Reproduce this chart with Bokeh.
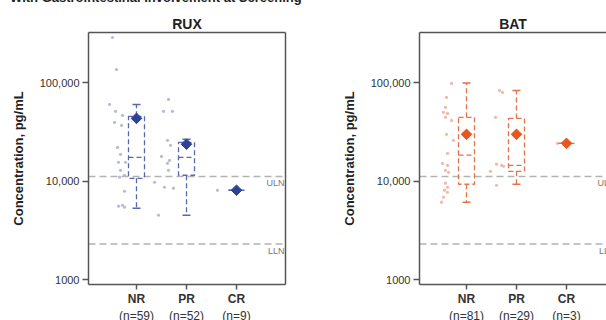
from bokeh.plotting import figure
from bokeh.models import Range1d, FixedTicker, LinearAxis, Div
from bokeh.layouts import row, column
from bokeh.core.properties import value
from bokeh.embed import file_html
from bokeh.resources import INLINE

FONT = "Liberation Sans"

heading = "With Gastrointestinal Involvement at Screening"
categories = ["NR", "PR", "CR"]
rux_n = ["(n=59)", "(n=52)", "(n=9)"]
bat_n = ["(n=81)", "(n=29)", "(n=3)"]

uln_value = 11200
lln_value = 2300

# box statistics, pg/mL
rux_lower = [5320, 4520, 8100]
rux_q1 = [10700, 11500, 8100]
rux_median = [17500, 17500, 8100]
rux_q3 = [45700, 24900, 8100]
rux_upper = [60500, 26700, 8100]
rux_mean = [43600, 23800, 8100]

bat_lower = [6120, 9320, 24300]
bat_q1 = [9320, 12600, 24300]
bat_median = [18400, 14500, 24300]
bat_q3 = [44700, 43600, 24300]
bat_upper = [100000, 84000, 24300]
bat_mean = [30000, 30000, 24300]

# individual patients: category index, horizontal jitter, value
rux_pt_cat = [0] * 18 + [1] * 13 + [2]
rux_pt_jit = [-0.48, -0.40, -0.54, -0.42, -0.28, -0.44, -0.30, -0.38, -0.32, -0.36,
              -0.22, -0.32, -0.24, -0.34, -0.24, -0.36, -0.28, -0.24,
              -0.36, -0.46, -0.28, -0.38, -0.32, -0.50, -0.34, -0.38, -0.36, -0.64,
              -0.44, -0.26, -0.56,
              -0.38]
rux_pt_val = [290000, 137000, 60500, 51400, 46800, 39700, 37000, 22100, 18800, 15600,
              15600, 12900, 11500, 11000, 7910, 5570, 5700, 5450,
              68000, 51400, 51400, 26100, 23200, 17900, 16300, 15200, 12900, 9770,
              8690, 8490, 4520,
              8100]

bat_pt_cat = [0] * 20 + [1] * 8 + [2]
bat_pt_jit = [-0.30, -0.40, -0.42, -0.38, -0.42, -0.30, -0.40, -0.26, -0.38, -0.48,
              -0.38, -0.42, -0.36, -0.42, -0.38, -0.44, -0.38, -0.46, -0.50, -0.46,
              -0.34, -0.28, -0.42, -0.40, -0.30, -0.26, -0.52, -0.40,
              -0.18]
bat_pt_val = [98900, 71300, 56400, 49000, 44700, 41600, 30000, 26100, 19200, 15200,
              14500, 12900, 12300, 9550, 8690, 8110, 7730, 6880, 6120, 50200,
              83900, 80100, 44700, 14900, 14500, 14200, 12600, 9100,
              24300]

AX = "#555555"


def empty_axis():
    return LinearAxis(ticker=FixedTicker(ticks=[]), axis_line_color=AX, axis_line_width=1.5,
                      major_tick_line_color=None, minor_tick_line_color=None,
                      major_label_text_font_size="0px", major_label_standoff=0,
                      major_tick_out=0, major_tick_in=0, minor_tick_out=0, minor_tick_in=0)


def make_panel(title, st, pcat, pjit, pval, cols, x_start, x_end,
               min_left, min_right, right_border, label_x_end):
    p = figure(width=303, height=304, y_axis_type="log",
               x_range=Range1d(x_start, x_end), y_range=Range1d(890, 326000),
               output_backend="svg", toolbar_location=None,
               min_border_left=min_left, min_border_right=min_right,
               min_border_top=27, min_border_bottom=25,
               background_fill_color="white", border_fill_color="white")
    p.outline_line_color = None
    p.xgrid.visible = False
    p.ygrid.visible = False

    p.title.text = title
    p.title.align = "center"
    p.title.text_font = FONT
    p.title.text_font_size = "14px"
    p.title.text_font_style = "bold"
    p.title.text_color = "#222222"
    p.title.standoff = 1

    # y axis
    ya = p.yaxis[0]
    ya.ticker = FixedTicker(ticks=[1000, 10000, 100000])
    ya.major_label_overrides = {1000: "1000", 10000: "10,000", 100000: "100,000"}
    ya.axis_label = "Concentration, pg/mL"
    ya.axis_label_text_font = FONT
    ya.axis_label_text_font_size = "13px"
    ya.axis_label_text_font_style = "bold"
    ya.axis_label_text_color = "#222222"
    ya.axis_label_standoff = 11

    # x axis
    xa = p.xaxis[0]
    xa.ticker = FixedTicker(ticks=[0, 1, 2])
    xa.major_label_overrides = {i: c for i, c in enumerate(categories)}
    xa.major_label_text_font_style = "bold"
    xa.major_label_text_font_size = "12px"

    for ax in (ya, xa):
        ax.axis_line_color = AX
        ax.axis_line_width = 1.5
        ax.major_tick_line_color = AX
        ax.major_tick_line_width = 1.5
        ax.major_tick_out = 6
        ax.major_tick_in = 0
        ax.minor_tick_out = 0
        ax.minor_tick_in = 0
        ax.minor_tick_line_color = None
        ax.major_label_text_font = FONT
        ax.major_label_text_color = "#333333"
        ax.major_label_standoff = 3
    ya.major_label_text_font_size = "11px"
    xa.major_tick_out = 5
    xa.major_label_standoff = 2

    p.add_layout(empty_axis(), "above")
    if right_border:
        p.add_layout(empty_axis(), "right")

    # reference lines
    for v, t in ((uln_value, "ULN"), (lln_value, "LLN")):
        p.line(x=[x_start, label_x_end], y=[v, v], line_color="#b3b3b3", line_width=1.5,
               line_dash="7 4")
        p.text(x=[label_x_end], y=[v], text=[t], text_align="right", text_baseline="top",
               x_offset=-1, y_offset=2, text_font_size="9px", text_color="#777777",
               text_font=value(FONT))

    lower, q1, med, q3, upper, mean = st
    dark, boxc, ptc = cols
    xs = [0, 1, 2]
    hw = 0.16
    cw = 0.08
    # points
    px = [c + j for c, j in zip(pcat, pjit)]
    p.scatter(x=px, y=pval, size=3.2, fill_color=ptc, line_color=None)
    # boxes
    p.quad(left=[x - hw for x in xs], right=[x + hw for x in xs], bottom=q1, top=q3,
           fill_color=None, line_color=boxc, line_width=1.3, line_dash="5 3")
    p.segment(x0=[x - hw for x in xs], x1=[x + hw for x in xs], y0=med, y1=med,
              line_color=boxc, line_width=1.3, line_dash="5 3")
    p.segment(x0=xs, x1=xs, y0=q3, y1=upper, line_color=boxc, line_width=1.3, line_dash="5 3")
    p.segment(x0=xs, x1=xs, y0=q1, y1=lower, line_color=boxc, line_width=1.3, line_dash="5 3")
    p.segment(x0=[x - cw for x in xs], x1=[x + cw for x in xs], y0=upper, y1=upper,
              line_color=boxc, line_width=1.5)
    p.segment(x0=[x - cw for x in xs], x1=[x + cw for x in xs], y0=lower, y1=lower,
              line_color=boxc, line_width=1.5)
    p.scatter(x=xs, y=mean, marker="square", angle=0.785398, size=7.5,
              fill_color=dark, line_color=dark)
    return p


def make_n_strip(n_labels, x_start, x_end, min_left, min_right):
    s = figure(width=303, height=11, x_range=Range1d(x_start, x_end),
               y_range=Range1d(0, 1), output_backend="svg", toolbar_location=None,
               x_axis_location=None, y_axis_location=None,
               min_border_left=min_left, min_border_right=min_right,
               min_border_top=0, min_border_bottom=0,
               background_fill_color="white", border_fill_color="white")
    s.outline_line_color = None
    s.xgrid.visible = False
    s.ygrid.visible = False
    s.text(x=[0, 1, 2], y=[0.5, 0.5, 0.5], text=n_labels, text_align="center",
           text_baseline="middle", text_font=value(FONT), text_font_size="12px",
           text_color="#333333")
    return s


left = make_panel("RUX",
                  (rux_lower, rux_q1, rux_median, rux_q3, rux_upper, rux_mean),
                  rux_pt_cat, rux_pt_jit, rux_pt_val,
                  ("#2d4295", "#5868b0", "#b9bdd0"),
                  -0.96, 2.98, 88, 18, True, 2.98)
right = make_panel("BAT",
                   (bat_lower, bat_q1, bat_median, bat_q3, bat_upper, bat_mean),
                   bat_pt_cat, bat_pt_jit, bat_pt_val,
                   ("#e8561f", "#e2714c", "#f3b9a6"),
                   -0.94, 2.80, 116, 0, False, 3.0)
right.title.offset = 5

left_n = make_n_strip(rux_n, -0.96, 2.98, 88, 18)
right_n = make_n_strip(bat_n, -0.94, 2.80, 116, 0)

head = Div(text=('<div style="position:relative;top:-10px;padding-left:10px;white-space:nowrap;'
                 'font-family:\'Liberation Sans\';font-weight:bold;font-size:13px;'
                 'line-height:15px;color:#222222">' + heading + '</div>'),
           width=606, height=5, margin=(0, 0, 0, 0), styles={"overflow": "hidden"})

layout = column(head, row(left, right, spacing=0), row(left_n, right_n, spacing=0), spacing=0)
open("out.html", "w").write(file_html(layout, INLINE))
